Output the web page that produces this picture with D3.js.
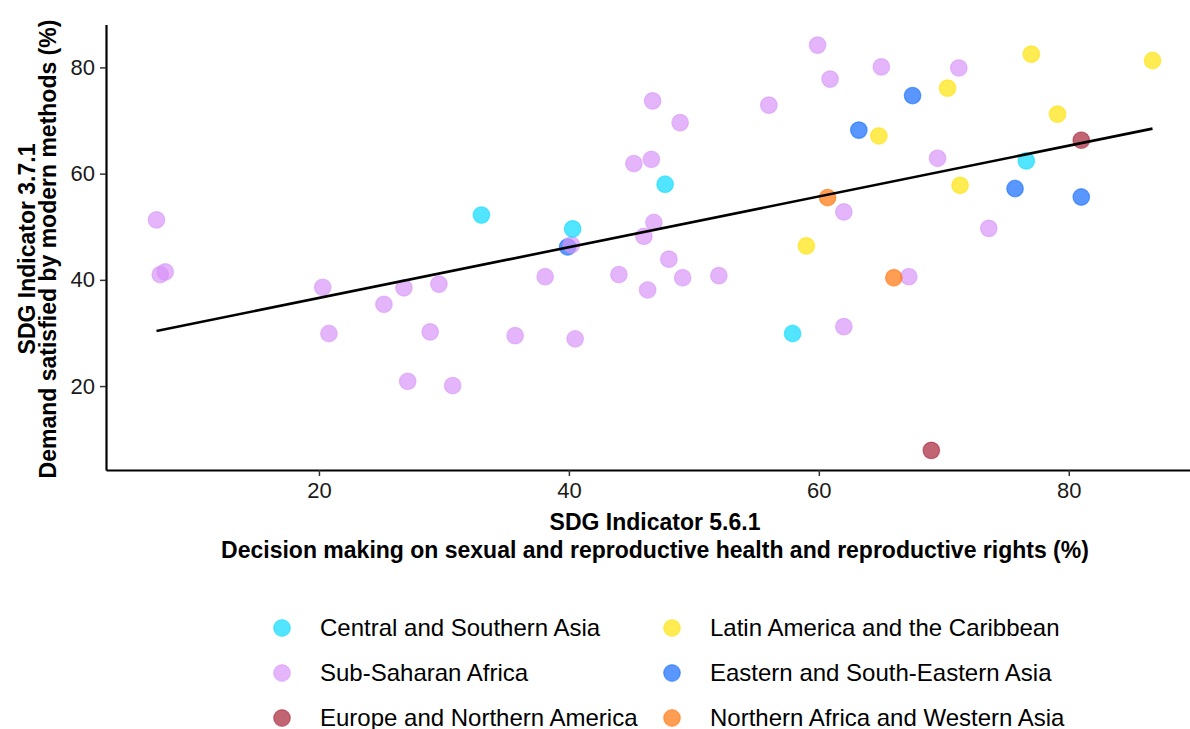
<!DOCTYPE html>
<html>
<head>
<meta charset="utf-8">
<script src="https://d3js.org/d3.v7.min.js"></script>
<style>
  body { margin: 0; padding: 0; background: #fff; }
  svg { font-family: "Liberation Sans", Arial, sans-serif; }
  .tick text { font-size: 22px; fill: #1a1a1a; }
  .tick line { stroke: #333; stroke-width: 1.5; }
  .axis-title { font-size: 23px; font-weight: bold; fill: #000; }
  .legend text { font-size: 24px; fill: #000; }
</style>
</head>
<body>
<script>
// region groups, values as [decision making %, demand satisfied %]
var regions = ["Central and Southern Asia", "Sub-Saharan Africa", "Europe and Northern America",
               "Latin America and the Caribbean", "Eastern and South-Eastern Asia", "Northern Africa and Western Asia"];
var regionColors = ["#00d8ff", "#d792f8", "#a51c30", "#ffe200", "#0a66ff", "#ff6f00"];

var centralSouthernAsia = [[33.0,52.2],[40.3,49.6],[47.7,58.0],[57.9,29.9],[76.6,62.4]];
var subSaharanAfrica = [[7.0,51.3],[7.3,41.0],[7.7,41.5],[20.3,38.6],[20.8,29.9],[25.2,35.4],[26.8,38.5],
  [27.1,20.9],[28.9,30.2],[29.6,39.2],[30.7,20.1],[35.7,29.5],[38.1,40.6],[40.2,46.6],[40.5,28.9],
  [44.0,41.0],[45.2,61.9],[46.0,48.2],[46.3,38.1],[46.6,62.7],[46.7,73.7],[46.8,50.8],[48.0,43.9],
  [48.9,69.6],[49.1,40.4],[52.0,40.8],[56.0,72.9],[59.9,84.2],[60.9,77.8],[62.0,52.8],[62.0,31.2],
  [65.0,80.1],[67.2,40.6],[69.5,62.9],[71.2,79.9],[73.6,49.7]];
var europeNorthAmerica = [[69.0,7.9],[81.0,66.3]];
var latinAmerica = [[59.0,46.4],[64.8,67.1],[70.3,76.1],[71.3,57.8],[77.0,82.5],[79.1,71.2],[86.7,81.3]];
var easternSEAsia = [[39.9,46.2],[63.2,68.2],[67.5,74.7],[75.7,57.2],[81.0,55.6]];
var northAfricaWestAsia = [[60.7,55.5],[66.0,40.4]];

var xTicks = [20, 40, 60, 80];
var yTicks = [20, 40, 60, 80];

// linear fit
var fitSlope = 0.478, fitIntercept = 27.03;

var width = 1190, height = 729;
var svg = d3.select("body").append("svg")
    .attr("width", width).attr("height", height);

var x = d3.scaleLinear().domain([2.96, 90.5]).range([106, 1200]);
var y = d3.scaleLinear().domain([4.2, 88.1]).range([470, 24.4]);
var color = d3.scaleOrdinal().domain(regions).range(regionColors);

// draw order: blue first so purple sits on top of it
var groups = [
  [regions[4], easternSEAsia],
  [regions[1], subSaharanAfrica],
  [regions[0], centralSouthernAsia],
  [regions[3], latinAmerica],
  [regions[2], europeNorthAmerica],
  [regions[5], northAfricaWestAsia]
];
var points = [];
groups.forEach(g => g[1].forEach(p => points.push({region: g[0], x: p[0], y: p[1]})));

svg.append("g").selectAll("circle")
  .data(points)
  .enter().append("circle")
    .attr("cx", d => x(d.x))
    .attr("cy", d => y(d.y))
    .attr("r", 8.3)
    .attr("fill", d => color(d.region))
    .attr("fill-opacity", 0.68)
    .attr("stroke", d => color(d.region))
    .attr("stroke-opacity", 0.55)
    .attr("stroke-width", 1.2);

// regression line over data extent
var xr = d3.extent(points, d => d.x);
svg.append("path")
  .datum(xr.map(v => [v, fitIntercept + fitSlope * v]))
  .attr("d", d3.line().x(d => x(d[0])).y(d => y(d[1])))
  .attr("fill", "none")
  .attr("stroke", "#000")
  .attr("stroke-width", 2.6);

// axes
var xAxis = svg.append("g")
  .attr("transform", "translate(0,470)")
  .call(d3.axisBottom(x).tickValues(xTicks).tickSize(6).tickSizeOuter(0).tickPadding(6).tickFormat(d3.format("d")));
var yAxis = svg.append("g")
  .attr("transform", "translate(106,0)")
  .call(d3.axisLeft(y).tickValues(yTicks).tickSize(6).tickSizeOuter(0).tickPadding(5).tickFormat(d3.format("d")));
[xAxis, yAxis].forEach(a => {
  a.attr("font-size", null).attr("font-family", null);
  a.select(".domain").attr("stroke", "#000").attr("stroke-width", 2.2);
});

// axis titles
var xt = svg.append("text").attr("class", "axis-title")
  .attr("text-anchor", "middle").attr("x", 655);
xt.append("tspan").attr("x", 655).attr("y", 530).text("SDG Indicator 5.6.1");
xt.append("tspan").attr("x", 655).attr("y", 558).text("Decision making on sexual and reproductive health and reproductive rights (%)");

var yt = svg.append("text").attr("class", "axis-title")
  .attr("text-anchor", "middle")
  .attr("transform", "translate(0,249) rotate(-90)");
yt.append("tspan").attr("x", 0).attr("y", 35).text("SDG Indicator 3.7.1");
yt.append("tspan").attr("x", 0).attr("y", 56).text("Demand satisfied by modern methods (%)");

// legend: two columns, three rows
var legendOrder = [0, 1, 2, 3, 4, 5];
var legend = svg.append("g").attr("class", "legend");
var item = legend.selectAll("g")
  .data(legendOrder)
  .enter().append("g")
    .attr("transform", (d, i) => "translate(" + (i < 3 ? 282 : 672) + "," + (628 + (i % 3) * 45) + ")");
item.append("circle")
  .attr("r", 8.3)
  .attr("fill", d => regionColors[d])
  .attr("fill-opacity", 0.68)
  .attr("stroke", d => regionColors[d])
  .attr("stroke-opacity", 0.55)
  .attr("stroke-width", 1.2);
item.append("text")
  .attr("x", 38)
  .attr("dy", "0.35em")
  .text(d => regions[d]);
</script>
</body>
</html>
